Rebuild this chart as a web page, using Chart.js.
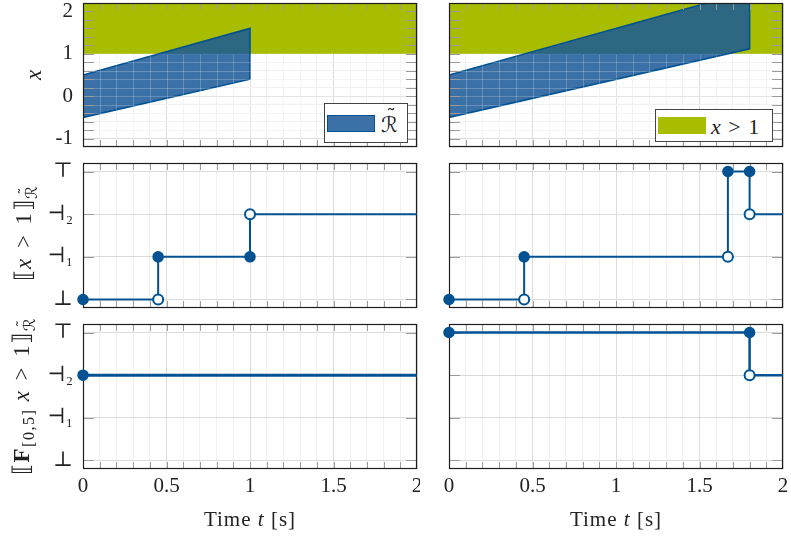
<!DOCTYPE html>
<html>
<head>
<meta charset="utf-8">
<script src="https://cdn.jsdelivr.net/npm/chart.js@4.4.8/dist/chart.umd.min.js"></script>
<style>
  body { margin: 0; background: #fff; }
  #page { position: relative; width: 791px; height: 537px; overflow: hidden; font-family: "Liberation Serif", "DejaVu Serif", serif; color: #222; }
  canvas { position: absolute; }
  .txt { position: absolute; white-space: nowrap; font-size: 21px; line-height: 21px; }
  .rot { transform: translate(-50%, -50%) rotate(-90deg); }
  .legend { position: absolute; box-sizing: border-box; border: 1px solid #444; background: #fff; }
  .swatch { position: absolute; box-sizing: border-box; }
  sub { font-size: 70%; vertical-align: -0.35em; line-height: 0; }
  .rt { position: relative; display: inline-block; font-family: "DejaVu Sans", sans-serif; font-style: normal; }
  .rt .tl { position: absolute; left: 0.28em; top: -0.5em; font-size: 0.9em; }
</style>
</head>
<body>
<div id="page">
  <canvas id="p00" width="420" height="155"></canvas>
  <canvas id="p01" width="371" height="155"></canvas>
  <canvas id="p10" width="420" height="161"></canvas>
  <canvas id="p11" width="371" height="161"></canvas>
  <canvas id="p20" width="420" height="221"></canvas>
  <canvas id="p21" width="371" height="221"></canvas>

  <div class="txt rot" style="left:33px; top:75px; font-size:23px;"><i>x</i></div>
  <div class="txt rot" style="left:23px; top:233px; font-size:23px; letter-spacing:1.5px;">⟦<i>x</i>&#8196;&gt;&#8196;1⟧<sub><span class="rt">ℛ<span class="tl">˜</span></span></sub></div>
  <div class="txt rot" style="left:21px; top:396px; font-size:23px; letter-spacing:1.5px;">⟦<b>F</b><sub>[0,5]</sub> <i>x</i>&#8196;&gt;&#8196;1⟧<sub><span class="rt">ℛ<span class="tl">˜</span></span></sub></div>

  <div class="txt" style="left:250px; top:509px; transform:translateX(-50%); letter-spacing:1px;">Time <i>t</i> [s]</div>
  <div class="txt" style="left:616px; top:509px; transform:translateX(-50%); letter-spacing:1px;">Time <i>t</i> [s]</div>

  <div class="legend" style="left:324px; top:103px; width:84px; height:40px;">
    <div class="swatch" style="left:2px; top:11px; width:48px; height:17px; background:rgba(25,88,152,0.85); border:1.5px solid #005293;"></div>
    <div class="txt" style="left:56px; top:11px; font-size:21px;"><span class="rt">ℛ<span class="tl">˜</span></span></div>
  </div>
  <div class="legend" style="left:655px; top:109px; width:118px; height:33px;">
    <div class="swatch" style="left:2px; top:7px; width:48px; height:17px; background:#a8bd00;"></div>
    <div class="txt" style="left:55px; top:6px; font-size:22px; letter-spacing:1px;"><i>x</i>&nbsp;&gt;&nbsp;1</div>
  </div>
</div>
<script>
// axis values and labels
const timeTicks = [0, 0.5, 1, 1.5, 2];
const timeTickLabels = ['0', '0.5', '1', '1.5', '2'];
const stateTicks = [-1, 0, 1, 2];
const stateTickLabels = ['-1', '0', '1', '2'];
const truthTicks = [0, 1, 2, 3];
const truthTickLabels = ['⊥', '⊣₁', '⊣₂', '⊤'];

// predicate x > 1
const threshold = 1;

// reachable tube (t, x) corners, short and long horizon
const tubeShortT = [0, 1, 1, 0, 0];
const tubeShortX = [-0.5, 0.4, 1.6, 0.5, -0.5];
const tubeLongT = [0, 1.8, 1.8, 0, 0];
const tubeLongX = [-0.5, 1.12, 2.48, 0.5, -0.5];

// [[x > 1]] short horizon
const predShortT = [0, 0.45, 1, 2];
const predShortV = [0, 1, 2, 2];
const predShortClosedT = [0, 0.45, 1];
const predShortClosedV = [0, 1, 1];
const predShortOpenT = [0.45, 1];
const predShortOpenV = [0, 2];

// [[x > 1]] long horizon
const predLongT = [0, 0.45, 1.67, 1.8, 2];
const predLongV = [0, 1, 3, 2, 2];
const predLongClosedT = [0, 0.45, 1.67, 1.8];
const predLongClosedV = [0, 1, 3, 3];
const predLongOpenT = [0.45, 1.67, 1.8];
const predLongOpenV = [0, 1, 2];

// [[F_[0,5] x > 1]] short horizon
const evShortT = [0, 2];
const evShortV = [2, 2];
const evShortClosedT = [0];
const evShortClosedV = [2];

// [[F_[0,5] x > 1]] long horizon
const evLongT = [0, 1.8, 2];
const evLongV = [3, 2, 2];
const evLongClosedT = [0, 1.8];
const evLongClosedV = [3, 3];
const evLongOpenT = [1.8];
const evLongOpenV = [2];

const BLUE = '#005293';
const TUBE_FILL = 'rgba(25,88,152,0.85)';
const GREEN = '#a8bd00';
const FONT = "'Liberation Serif', 'DejaVu Serif', serif";

// plot boxes in page pixels
const colX = [[83, 417], [449, 783]];
const rowY = [[3, 147], [163, 308], [324, 469]];
const canvasX = [[0, 420], [420, 791]];
const canvasY = [[0, 155], [155, 316], [316, 537]];

const xy = (ts, vs) => ts.map((t, i) => ({x: t, y: vs[i]}));
const near = (list, v) => list.findIndex(u => Math.abs(u - v) < 1e-6);

function steps(from, to, step) {
  const out = [];
  const n = Math.round((to - from) / step);
  for (let i = 0; i <= n; i++) out.push(+(from + i * step).toFixed(3));
  return out;
}

// frame and inward tick marks on all four sides
const frameTicks = {
  id: 'frameTicks',
  draw(chart, opts) {
    const {ctx, chartArea: a, scales: {x, y}} = chart;
    ctx.save();
    if (opts.sheen) {
      // grid shows faintly through the tube below the threshold
      const yt = y.getPixelForValue(threshold);
      ctx.save();
      ctx.beginPath();
      ctx.rect(a.left, yt + 1, a.width, a.bottom - yt - 1);
      ctx.clip();
      ctx.strokeStyle = 'rgba(255,255,255,0.22)';
      ctx.lineWidth = 1;
      ctx.beginPath();
      x.ticks.forEach(t => {
        const px = Math.round(x.getPixelForValue(t.value)) + 0.5;
        ctx.moveTo(px, a.top); ctx.lineTo(px, a.bottom);
      });
      y.ticks.forEach(t => {
        const py = Math.round(y.getPixelForValue(t.value)) + 0.5;
        ctx.moveTo(a.left, py); ctx.lineTo(a.right, py);
      });
      ctx.stroke();
      ctx.restore();
    }
    ctx.strokeStyle = '#9b9b9b';
    ctx.lineWidth = 1;
    ctx.beginPath();
    x.ticks.forEach(t => {
      const px = Math.round(x.getPixelForValue(t.value)) + 0.5;
      if (px < a.left + 1 || px > a.right - 1) return;
      ctx.moveTo(px, a.top); ctx.lineTo(px, a.top + 7);
      ctx.moveTo(px, a.bottom); ctx.lineTo(px, a.bottom - 7);
    });
    y.ticks.forEach(t => {
      const py = Math.round(y.getPixelForValue(t.value)) + 0.5;
      if (py < a.top + 1 || py > a.bottom - 1) return;
      ctx.moveTo(a.left, py); ctx.lineTo(a.left + 11, py);
      ctx.moveTo(a.right, py); ctx.lineTo(a.right - 11, py);
    });
    ctx.stroke();
    ctx.strokeStyle = '#1e1e1e';
    ctx.lineWidth = 1.2;
    ctx.strokeRect(a.left + 0.5, a.top + 0.5, a.width - 1, a.height - 1);
    ctx.restore();
  },
  beforeDatasetsDraw(chart, args, opts) { if (!opts.onTop) this.draw(chart, opts); },
  afterDatasetsDraw(chart, args, opts) { if (opts.onTop) this.draw(chart, opts); }
};

function stepLine(ts, vs, width) {
  return {data: xy(ts, vs), showLine: true, stepped: 'before', borderColor: BLUE,
          borderWidth: width || 2, pointRadius: 0, fill: false};
}
function closedDots(ts, vs) {
  return {data: xy(ts, vs), showLine: false, pointRadius: 5, pointBorderWidth: 1.5,
          pointBackgroundColor: BLUE, pointBorderColor: BLUE, clip: false};
}
function openDots(ts, vs) {
  return {data: xy(ts, vs), showLine: false, pointRadius: 5, pointBorderWidth: 2,
          pointBackgroundColor: '#fff', pointBorderColor: BLUE, clip: false};
}

function panel(id, row, col, datasets, yCfg) {
  const [cl, cr] = canvasX[col];
  const [ct, cb] = canvasY[row];
  const [pl, pr] = colX[col];
  const [pt, pb] = rowY[row];
  const xMinor = steps(0, 2, 0.1);
  const showX = row === 2;
  const showY = col === 0;
  new Chart(document.getElementById(id), {
    type: 'scatter',
    data: {datasets},
    options: {
      responsive: false,
      animation: false,
      events: [],
      layout: {autoPadding: false, padding: {top: pt - ct, right: cr - pr, left: 0, bottom: 0}},
      plugins: {legend: {display: false}, tooltip: {enabled: false},
                frameTicks: {onTop: row === 0, sheen: row === 0}},
      scales: {
        x: {
          type: 'linear', min: 0, max: 2,
          afterBuildTicks: ax => { ax.ticks = xMinor.map(v => ({value: v})); },
          afterFit: ax => { ax.height = cb - pb; ax.paddingLeft = 0; ax.paddingRight = 0; },
          border: {display: false},
          grid: {drawTicks: false, lineWidth: 1,
                 color: c => near(timeTicks, c.tick.value) >= 0 ? '#dcdcdc' : '#f1f1f1'},
          ticks: {display: showX, autoSkip: false, maxRotation: 0, padding: 5,
                  font: {family: FONT, size: 21}, color: '#222',
                  callback: v => { const i = near(timeTicks, v); return i >= 0 ? timeTickLabels[i] : ''; }}
        },
        y: {
          type: 'linear', min: yCfg.min, max: yCfg.max,
          afterBuildTicks: ax => { ax.ticks = yCfg.grid.map(v => ({value: v})); },
          afterFit: ax => { ax.width = pl - cl; ax.paddingTop = 0; ax.paddingBottom = 0; },
          border: {display: false},
          grid: {drawTicks: false, lineWidth: 1,
                 color: c => near(yCfg.major, c.tick.value) >= 0 ? '#dcdcdc' : '#f1f1f1'},
          ticks: {display: showY, autoSkip: false, padding: 10,
                  font: {family: FONT, size: 21}, color: '#222',
                  callback: v => { const i = near(yCfg.major, v); return i >= 0 ? yCfg.labels[i] : ''; }}
        }
      }
    },
    plugins: [frameTicks]
  });
  const cv = document.getElementById(id);
  cv.style.left = cl + 'px';
  cv.style.top = ct + 'px';
}

const stateAxis = {min: -1.2, max: 2.2, grid: steps(-1.2, 2.2, 0.2), major: stateTicks, labels: stateTickLabels};
const truthAxis = {min: -0.2, max: 3.2, grid: truthTicks, major: truthTicks, labels: truthTickLabels};

function tube(ts, vs) {
  return {data: xy(ts, vs), showLine: true, fill: 'shape', backgroundColor: TUBE_FILL,
          borderColor: BLUE, borderWidth: 1.6, pointRadius: 0};
}
function band() {
  return {data: xy([0, 2], [threshold, threshold]), showLine: true, fill: 'end',
          backgroundColor: GREEN, borderWidth: 0, pointRadius: 0};
}

panel('p00', 0, 0, [tube(tubeShortT, tubeShortX), band()], stateAxis);
panel('p01', 0, 1, [tube(tubeLongT, tubeLongX), band()], stateAxis);

panel('p10', 1, 0, [closedDots(predShortClosedT, predShortClosedV), openDots(predShortOpenT, predShortOpenV),
                    stepLine(predShortT, predShortV)], truthAxis);
panel('p11', 1, 1, [closedDots(predLongClosedT, predLongClosedV), openDots(predLongOpenT, predLongOpenV),
                    stepLine(predLongT, predLongV)], truthAxis);

panel('p20', 2, 0, [closedDots(evShortClosedT, evShortClosedV), stepLine(evShortT, evShortV, 3)], truthAxis);
panel('p21', 2, 1, [closedDots(evLongClosedT, evLongClosedV), openDots(evLongOpenT, evLongOpenV),
                    stepLine(evLongT, evLongV, 2.5)], truthAxis);
</script>
</body>
</html>
